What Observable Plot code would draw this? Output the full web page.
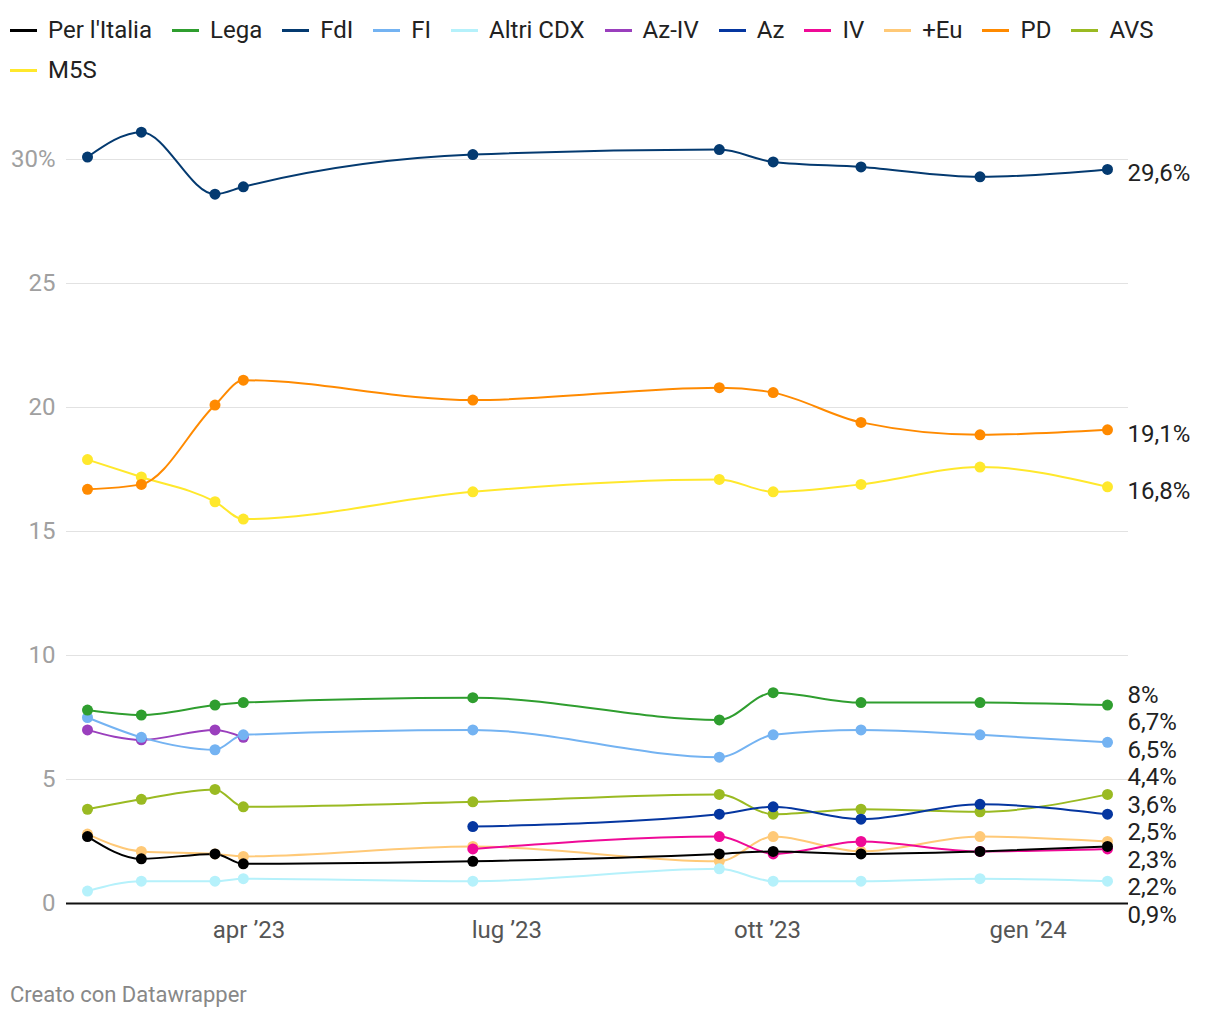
<!DOCTYPE html>
<html>
<head>
<meta charset="utf-8">
<script src="https://cdn.jsdelivr.net/npm/d3@7"></script>
<script src="https://cdn.jsdelivr.net/npm/@observablehq/plot@0.6"></script>
<style>
  html, body { margin: 0; padding: 0; background: #fff; }
  body { width: 1220px; height: 1020px; font-family: Roboto, "Noto Sans", sans-serif; color: #222; overflow: hidden; }
  #legend { display: flex; flex-wrap: wrap; width: 1210px; padding: 10px 0 0 10px; box-sizing: border-box; height: 100px; align-content: flex-start; }
  .item { display: flex; align-items: center; height: 40px; margin-right: 20px; font-size: 24px; color: #222; }
  .sw { display: inline-block; width: 27px; height: 3px; margin-right: 11px; }
  #footer { font-size: 22px; color: #888; padding-left: 10px; margin-top: 22px; }
  svg { display: block; }
</style>
</head>
<body>
<div id="legend"></div>
<div id="chart"></div>
<div id="footer">Creato con Datawrapper</div>
<script>
// ---- data ----
const dates = ["2023-02-03","2023-02-22","2023-03-20","2023-03-30","2023-06-19","2023-09-14","2023-10-03","2023-11-03","2023-12-15","2024-01-29"];
const parties = ["Per l'Italia","Lega","FdI","FI","Altri CDX","Az-IV","Az","IV","+Eu","PD","AVS","M5S"];
const colors  = ["#000000","#2f9e2f","#043a70","#74b3f2","#b5f1fb","#9a3fbd","#0536a0","#ef0a97","#ffc977","#ff8a00","#9aba22","#ffe82c"];
const perItalia = [2.7,1.8,2.0,1.6,1.7,2.0,2.1,2.0,2.1,2.3];
const lega      = [7.8,7.6,8.0,8.1,8.3,7.4,8.5,8.1,8.1,8.0];
const fdi       = [30.1,31.1,28.6,28.9,30.2,30.4,29.9,29.7,29.3,29.6];
const fi        = [7.5,6.7,6.2,6.8,7.0,5.9,6.8,7.0,6.8,6.5];
const altriCdx  = [0.5,0.9,0.9,1.0,0.9,1.4,0.9,0.9,1.0,0.9];
const azIv      = [7.0,6.6,7.0,6.7,null,null,null,null,null,null];
const az        = [null,null,null,null,3.1,3.6,3.9,3.4,4.0,3.6];
const iv        = [null,null,null,null,2.2,2.7,2.0,2.5,2.1,2.2];
const piuEuropa = [2.8,2.1,2.0,1.9,2.3,1.7,2.7,2.1,2.7,2.5];
const pd        = [16.7,16.9,20.1,21.1,20.3,20.8,20.6,19.4,18.9,19.1];
const avs       = [3.8,4.2,4.6,3.9,4.1,4.4,3.6,3.8,3.7,4.4];
const m5s       = [17.9,17.2,16.2,15.5,16.6,17.1,16.6,16.9,17.6,16.8];
const seriesValues = [perItalia,lega,fdi,fi,altriCdx,azIv,az,iv,piuEuropa,pd,avs,m5s];
const yTicks = [0,5,10,15,20,25,30];
const yTickLabels = ["0","5","10","15","20","25","30%"];
const xTicks = ["2023-04-01","2023-07-01","2023-10-01","2024-01-01"];
const xTickLabels = ["apr ’23","lug ’23","ott ’23","gen ’24"];

// ---- tables ----
const rows = [];
// draw in reverse legend order so the first legend entries sit on top
for (let p = parties.length - 1; p >= 0; p--) {
  seriesValues[p].forEach((v, i) => {
    if (v != null) rows.push({party: parties[p], date: new Date(dates[i]), value: v});
  });
}
const lastDate = new Date(dates[dates.length - 1]);
const endRows = parties.map((p, k) => {
  const vals = seriesValues[k].filter(v => v != null);
  const v = vals[vals.length - 1];
  return {party: p, value: v, text: String(v).replace(".", ",") + "%"};
});

// legend
const legend = document.getElementById("legend");
parties.forEach((p, k) => {
  const it = document.createElement("div");
  it.className = "item";
  const sw = document.createElement("span");
  sw.className = "sw";
  sw.style.background = colors[k];
  it.appendChild(sw);
  it.appendChild(document.createTextNode(p));
  legend.appendChild(it);
});

const W = 1220, H = 860;
function build(labelRows) {
  return Plot.plot({
    width: W, height: H,
    marginTop: 59, marginBottom: 57, marginLeft: 66, marginRight: 92,
    style: {fontFamily: "Roboto, sans-serif", fontSize: "24px", background: "#fff"},
    x: {type: "utc", domain: [new Date(dates[0]), lastDate], inset: 21},
    y: {domain: [0, 30]},
    color: {domain: parties, range: colors},
    marks: [
      Plot.gridY(yTicks.filter(d => d > 0), {stroke: "#e2e2e2", strokeOpacity: 1, strokeWidth: 1}),
      Plot.axisY(yTicks, {tickSize: 0, tickPadding: 11, fontSize: 24, color: "#a0a0a0",
        tickFormat: d => yTickLabels[yTicks.indexOf(d)]}),
      Plot.axisX(xTicks.map(d => new Date(d)), {tickSize: 0, tickPadding: 17, fontSize: 24, color: "#555",
        tickFormat: d => xTickLabels[xTicks.findIndex(t => +new Date(t) === +d)]}),
      Plot.ruleY([0], {stroke: "#111", strokeWidth: 2}),
      Plot.line(rows, {x: "date", y: "value", z: "party", stroke: "party", strokeWidth: 2, curve: "monotone-x"}),
      Plot.dot(rows, {x: "date", y: "value", fill: "party", r: 5.5}),
      labelRows ? Plot.text(labelRows, {x: () => lastDate, y: "ly", text: "text", dx: 20, textAnchor: "start",
        fontSize: 24, fill: "#222"}) : null
    ]
  });
}

const first = build(null);
const ys = first.scale("y");
const d0 = ys.domain[0], d1 = ys.domain[1], r0 = ys.range[0], r1 = ys.range[1];
const toPx = v => r0 + (v - d0) / (d1 - d0) * (r1 - r0);
const toVal = px => d0 + (px - r0) / (r1 - r0) * (d1 - d0);

// dodge labels vertically (pixel space), grouping overlapping labels around their mean
const gap = 27.5, offset = 4;
const items = endRows.map(r => ({...r, t: toPx(r.value)})).sort((a, b) => a.t - b.t);
const pos = blk => {
  const c = d3.mean(blk.items, d => d.t);
  const top = c - (blk.items.length - 1) * gap / 2;
  return {top, bottom: top + (blk.items.length - 1) * gap};
};
let blocks = [];
for (const it of items) {
  blocks.push({items: [it]});
  while (blocks.length > 1) {
    const b = blocks[blocks.length - 1], a = blocks[blocks.length - 2];
    if (pos(a).bottom + gap > pos(b).top) {
      blocks.pop(); blocks.pop();
      blocks.push({items: a.items.concat(b.items)});
    } else break;
  }
}
const labelRows = [];
for (const blk of blocks) {
  const top = pos(blk).top;
  blk.items.forEach((it, i) => labelRows.push({...it, ly: toVal(top + i * gap + offset)}));
}

document.getElementById("chart").appendChild(build(labelRows));
</script>
</body>
</html>
